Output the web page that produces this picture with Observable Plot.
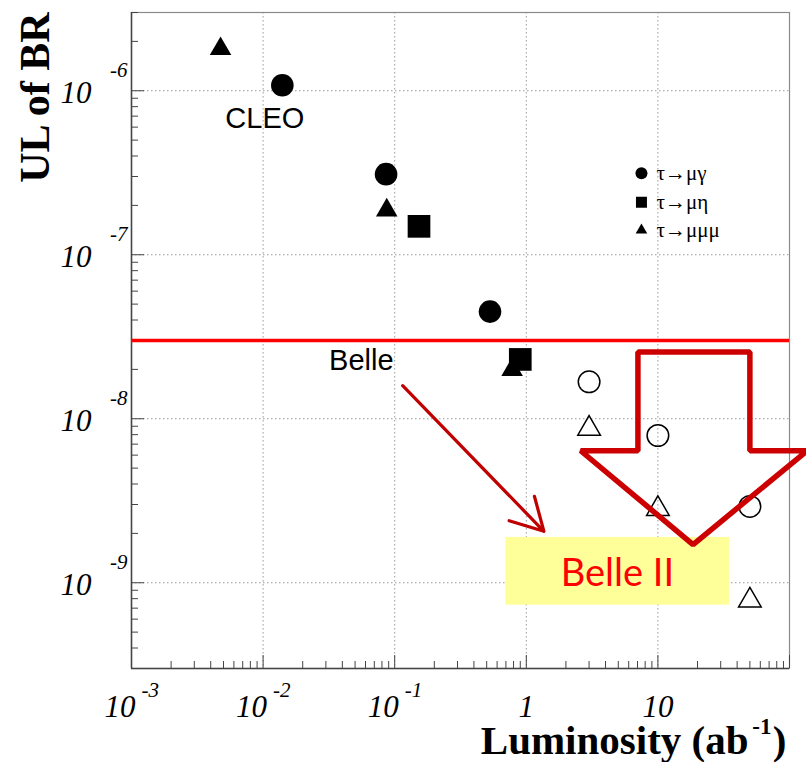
<!DOCTYPE html>
<html><head><meta charset="utf-8">
<script src="https://cdn.jsdelivr.net/npm/d3@7"></script>
<script src="https://cdn.jsdelivr.net/npm/@observablehq/plot@0.6"></script>
<style>body{margin:0;background:#fff}</style>
</head><body><div id="chart"></div>
<script>
// ---- data (luminosity in ab^-1, upper limit of branching ratio) ----
const muGammaLum = [0.014, 0.086, 0.53];
const muGammaUL  = [1.08e-6, 3.1e-7, 4.5e-8];
const muEtaLum   = [0.153, 0.90];
const muEtaUL    = [1.49e-7, 2.3e-8];
const muMuMuLum  = [0.00475, 0.087, 0.78];
const muMuMuUL   = [1.8e-6, 1.87e-7, 1.99e-8];
const projLum        = [3, 10, 50];
const projMuGammaUL  = [1.68e-8, 7.9e-9, 2.92e-9];
const projMuMuMuUL   = [8.7e-9, 2.82e-9, 7.8e-10];
const belleLimit = [3e-8];

const xTicks    = [1e-3, 1e-2, 1e-1, 1, 10];
const xTickBase = ["10", "10", "10", "1", "10"];
const xTickExp  = ["-3", "-2", "-1", "", ""];
const yTicks    = [1e-6, 1e-7, 1e-8, 1e-9];
const yTickBase = ["10", "10", "10", "10"];
const yTickExp  = ["-6", "-7", "-8", "-9"];

const legendLabels  = ["τ→μγ", "τ→μη", "τ→μμμ"];
const legendUL      = [3.14e-7, 2.09e-7, 1.41e-7];
const legendLum     = [7.5];

// annotations (data coordinates)
const cleoLabel  = [{lum: 0.0103, ul: 5.96e-7, text: "CLEO"}];
const belleLabel = [{lum: 0.098, ul: 1.99e-8, text: "Belle"}];
const belle2Label = [{lum: 4.92, ul: 9.5e-10, text: "Belle II"}];
const belle2Box = [{x1: 0.70, x2: 35, y1: 7.3e-10, y2: 1.89e-9}];
const pointerArrow = [{x1: 0.115, y1: 1.59e-8, x2: 1.36, y2: 2.06e-9}];
const bigArrowLum = [7.05, 50, 50, 136, 18.5, 2.59, 7.05];
const bigArrowUL  = [2.55e-8, 2.55e-8, 6.38e-9, 6.38e-9, 1.71e-9, 6.38e-9, 6.38e-9];

// ---- helpers ----
const zip = (xs, ys) => xs.map((x, i) => ({x, y: ys[i]}));
const W = 806, H = 762, ML = 131, MR = 17, MT = 12, MB = 94;
const FW = W - ML - MR, FH = H - MT - MB;
const xDomain = [1e-3, 100], yDomain = [3e-10, 3e-6];
const isMajor = v => Math.abs(Math.log10(v) - Math.round(Math.log10(v))) < 1e-9;
const xMinor = d3.scaleLog().domain(xDomain).ticks().filter(v => !isMajor(v));
const yMinor = d3.scaleLog().domain(yDomain).ticks().filter(v => !isMajor(v));
const xMajorAll = d3.scaleLog().domain(xDomain).ticks().filter(isMajor);
const yMajorAll = d3.scaleLog().domain(yDomain).ticks().filter(isMajor);
const serif = "Liberation Serif, Times New Roman, serif";
const sans = "Liberation Sans, Arial, sans-serif";
const xt = xTicks.map((v, i) => ({v, base: xTickBase[i], exp: xTickExp[i]}));
const yt = yTicks.map((v, i) => ({v, base: yTickBase[i], exp: yTickExp[i]}));

const chart = Plot.plot({
  width: W, height: H,
  marginLeft: ML, marginRight: MR, marginTop: MT, marginBottom: MB,
  x: {type: "log", domain: xDomain, axis: null},
  y: {type: "log", domain: yDomain, axis: null},
  style: {background: "#fff", overflow: "visible"},
  marks: [
    // grid
    Plot.ruleX(xMajorAll.filter(v => v > xDomain[0] && v < xDomain[1]), {stroke: "#9a9a9a", strokeWidth: 1, strokeDasharray: "1.5,2.5"}),
    Plot.ruleY(yMajorAll, {stroke: "#9a9a9a", strokeWidth: 1, strokeDasharray: "1.5,2.5"}),
    // frame
    Plot.frame({stroke: "#8a8a8a", strokeWidth: 1.2}),
    Plot.ruleX([xDomain[0]], {stroke: "#444", strokeWidth: 1.5}),
    Plot.ruleY([yDomain[0]], {stroke: "#444", strokeWidth: 1.5}),
    // ticks
    Plot.tickY(yMinor, {y: d => d, insetRight: FW - 7, stroke: "#444"}),
    Plot.tickY(yMajorAll, {y: d => d, insetRight: FW - 13, stroke: "#444"}),
    Plot.tickX(xMinor, {x: d => d, insetTop: FH - 7, stroke: "#444"}),
    Plot.tickX(xMajorAll, {x: d => d, insetTop: FH - 13, stroke: "#444"}),
    // tick labels y
    Plot.text(yt, {y: "v", frameAnchor: "left", text: "base", textAnchor: "end", lineAnchor: "bottom",
      dx: -40, dy: 12, fontSize: 31, fontStyle: "italic", fontFamily: serif}),
    Plot.text(yt, {y: "v", frameAnchor: "left", text: "exp", textAnchor: "end", lineAnchor: "bottom",
      dx: -4, dy: -14, fontSize: 21, fontStyle: "italic", fontFamily: serif}),
    // tick labels x
    Plot.text(xt.filter(d => d.exp), {x: "v", frameAnchor: "bottom", text: "base", textAnchor: "end", lineAnchor: "bottom",
      dx: 4, dy: 48, fontSize: 31, fontStyle: "italic", fontFamily: serif}),
    Plot.text(xt.filter(d => d.exp), {x: "v", frameAnchor: "bottom", text: "exp", textAnchor: "start", lineAnchor: "bottom",
      dx: 10, dy: 28, fontSize: 21, fontStyle: "italic", fontFamily: serif}),
    Plot.text(xt.filter(d => !d.exp), {x: "v", frameAnchor: "bottom", text: "base", textAnchor: "middle", lineAnchor: "bottom",
      dx: 0, dy: 48, fontSize: 31, fontStyle: "italic", fontFamily: serif}),
    // axis titles
    Plot.text(["UL of BR"], {frameAnchor: "top-left", text: d => d, rotate: -90, textAnchor: "end", lineAnchor: "bottom",
      dx: -83, dy: 0, fontSize: 42, fontWeight: "bold", fontFamily: serif}),
    Plot.text([")"], {frameAnchor: "bottom-right", text: d => d, textAnchor: "end", lineAnchor: "bottom",
      dx: -3, dy: 85, fontSize: 41, fontWeight: "bold", fontFamily: serif}),
    Plot.text(["-1"], {frameAnchor: "bottom-right", text: d => d, textAnchor: "end", lineAnchor: "bottom",
      dx: -18, dy: 65, fontSize: 23, fontWeight: "bold", fontFamily: serif}),
    Plot.text(["Luminosity (ab"], {frameAnchor: "bottom-right", text: d => d, textAnchor: "end", lineAnchor: "bottom",
      dx: -41, dy: 85, fontSize: 41, fontWeight: "bold", fontFamily: serif}),
    // Belle limit line
    Plot.ruleY(belleLimit, {stroke: "#ff0000", strokeWidth: 3.5}),
    // Belle II box
    Plot.rect(belle2Box, {x1: "x1", x2: "x2", y1: "y1", y2: "y2", fill: "#ffff99"}),
    // labels
    Plot.text(cleoLabel, {x: "lum", y: "ul", text: "text", textAnchor: "middle", lineAnchor: "bottom", fontSize: 29, fontFamily: sans}),
    Plot.text(belleLabel, {x: "lum", y: "ul", text: "text", textAnchor: "end", lineAnchor: "bottom", fontSize: 29, fontFamily: sans}),
    // measured points
    Plot.dot(zip(muGammaLum, muGammaUL), {x: "x", y: "y", symbol: "circle", r: 11.3, fill: "black"}),
    Plot.dot(zip(muEtaLum, muEtaUL), {x: "x", y: "y", symbol: "square", r: 12.8, fill: "black"}),
    Plot.dot(zip(muMuMuLum, muMuMuUL), {x: "x", y: "y", symbol: "triangle", r: 8, fill: "black"}),
    // projections
    Plot.dot(zip(projLum, projMuGammaUL), {x: "x", y: "y", symbol: "circle", r: 10.8, fill: "none", stroke: "black", strokeWidth: 1.5}),
    Plot.dot(zip(projLum, projMuMuMuUL), {x: "x", y: "y", symbol: "triangle", r: 8.4, fill: "none", stroke: "black", strokeWidth: 1.5}),
    // legend
    Plot.dot([{y: legendUL[0]}], {x: () => legendLum[0], y: "y", symbol: "circle", r: 6, fill: "black"}),
    Plot.dot([{y: legendUL[1]}], {x: () => legendLum[0], y: "y", symbol: "square", r: 6.2, fill: "black"}),
    Plot.dot([{y: legendUL[2]}], {x: () => legendLum[0], y: "y", symbol: "triangle", r: 4.3, fill: "black"}),
    Plot.text(legendLabels.map((t, i) => ({t, y: legendUL[i]})), {x: () => legendLum[0], y: "y", text: "t",
      textAnchor: "start", lineAnchor: "middle", dx: 15, dy: 0, fontSize: 21, fontFamily: serif}),
    // pointer arrow
    Plot.arrow(pointerArrow, {x1: "x1", y1: "y1", x2: "x2", y2: "y2", stroke: "#c00000", strokeWidth: 3.2, headLength: 17, headAngle: 58}),
    // big block arrow
    Plot.line(zip(bigArrowLum, bigArrowUL), {x: "x", y: "y", curve: "linear-closed", stroke: "#cc0000", strokeWidth: 5.5, strokeLinejoin: "miter", fill: "none"}),
    // Belle II label
    Plot.text(belle2Label, {x: "lum", y: "ul", text: "text", textAnchor: "middle", lineAnchor: "bottom", fontSize: 38, fill: "#ff0000", fontFamily: "Lato, Open Sans, sans-serif"})
  ]
});
document.getElementById("chart").appendChild(chart);
</script>
</body></html>
